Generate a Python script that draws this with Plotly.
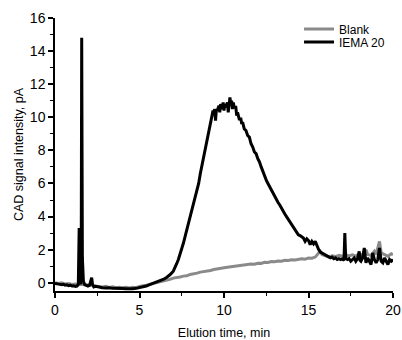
import plotly.graph_objects as go

# Blank (gray)
blank_x = [0.0, 0.2, 0.4, 0.6, 0.8, 1.0, 1.2, 1.4, 1.6, 1.8, 2.0, 2.2, 2.4, 2.6, 2.8, 3.0, 3.2, 3.4, 3.6, 3.8,
           4.0, 4.2, 4.4, 4.6, 4.8, 5.0, 5.2, 5.4, 5.6, 5.8, 6.0, 6.2, 6.4, 6.6, 6.8, 7.0, 7.2, 7.4, 7.6, 7.8,
           8.0, 8.2, 8.4, 8.6, 8.8, 9.0, 9.2, 9.4, 9.6, 9.8, 10.0, 10.2, 10.4, 10.6, 10.8, 11.0, 11.2, 11.4, 11.6, 11.8,
           12.0, 12.2, 12.4, 12.6, 12.8, 13.0, 13.2, 13.4, 13.6, 13.8, 14.0, 14.2, 14.4, 14.6, 14.8, 15.0, 15.2, 15.4, 15.6, 15.7,
           15.8, 16.0, 16.2, 16.4, 16.6, 16.8, 17.0, 17.2, 17.4, 17.6, 17.8, 18.0, 18.2, 18.4, 18.5, 18.7, 18.9, 19.0, 19.2, 19.3,
           19.5, 19.7, 19.9, 20.0]
blank_y = [0.0, -0.05, 0.0, -0.08, -0.05, -0.1, -0.08, -0.12, -0.1, -0.15, -0.12, -0.18, -0.2, -0.22, -0.25, -0.22, -0.28, -0.25, -0.3, -0.27,
           -0.3, -0.28, -0.32, -0.28, -0.3, -0.22, -0.2, -0.15, -0.1, -0.05, 0.0, 0.05, 0.08, 0.15, 0.2, 0.28, 0.3, 0.35, 0.4, 0.42,
           0.5, 0.52, 0.58, 0.64, 0.66, 0.72, 0.74, 0.8, 0.82, 0.86, 0.9, 0.93, 0.96, 0.98, 1.02, 1.05, 1.08, 1.07, 1.13, 1.12,
           1.18, 1.17, 1.23, 1.22, 1.28, 1.27, 1.31, 1.3, 1.36, 1.34, 1.39, 1.37, 1.42, 1.45, 1.42, 1.5, 1.48, 1.55, 1.8, 1.9,
           1.7, 1.6, 1.55, 1.62, 1.58, 1.65, 1.6, 1.7, 1.62, 1.68, 1.6, 1.75, 1.65, 2.0, 1.7, 1.65, 1.9, 1.7, 2.5, 1.8,
           1.7, 1.6, 1.75, 1.7]

# IEMA 20 (black)
iema_x = [0.0, 0.1, 0.2, 0.3, 0.4, 0.5, 0.6, 0.7, 0.8, 0.9, 1.0, 1.1, 1.2, 1.3, 1.38, 1.43, 1.48, 1.52, 1.55, 1.58,
          1.62, 1.68, 1.75, 1.85, 1.95, 2.05, 2.12, 2.17, 2.22, 2.3, 2.4, 2.6, 2.8, 3.0, 3.2, 3.4, 3.6, 3.8, 4.0, 4.2,
          4.4, 4.6, 4.8, 5.0, 5.2, 5.4, 5.6, 5.8, 6.0, 6.2, 6.4, 6.6, 6.8, 7.0, 7.1, 7.2, 7.3, 7.4, 7.5, 7.6,
          7.7, 7.8, 7.9, 8.0, 8.1, 8.2, 8.3, 8.4, 8.5, 8.6, 8.7, 8.8, 8.9, 9.0, 9.1, 9.2, 9.3, 9.35, 9.4, 9.45,
          9.5, 9.55, 9.6, 9.7, 9.75, 9.8, 9.9, 9.95, 10.0, 10.05, 10.1, 10.2, 10.25, 10.3, 10.35, 10.4, 10.45, 10.5, 10.55, 10.6,
          10.7, 10.75, 10.8, 10.9, 11.0, 11.05, 11.1, 11.2, 11.3, 11.4, 11.5, 11.6, 11.7, 11.8, 11.9, 12.0, 12.1, 12.2, 12.3, 12.4,
          12.5, 12.6, 12.7, 12.8, 12.9, 13.0, 13.1, 13.2, 13.3, 13.4, 13.5, 13.6, 13.7, 13.8, 13.9, 14.0, 14.1, 14.2, 14.3, 14.4,
          14.5, 14.6, 14.7, 14.8, 14.9, 15.0, 15.1, 15.2, 15.3, 15.4, 15.5, 15.6, 15.7, 15.8, 15.9, 16.0, 16.1, 16.2, 16.3, 16.4,
          16.5, 16.6, 16.7, 16.8, 16.9, 17.0, 17.1, 17.15, 17.2, 17.3, 17.4, 17.5, 17.6, 17.7, 17.8, 17.9, 18.0, 18.05, 18.1, 18.2,
          18.3, 18.35, 18.4, 18.5, 18.6, 18.7, 18.8, 18.9, 19.0, 19.1, 19.2, 19.3, 19.4, 19.5, 19.6, 19.7, 19.8, 19.9, 20.0]
iema_y = [-0.05, -0.08, -0.1, -0.1, -0.12, -0.1, -0.15, -0.13, -0.18, -0.15, -0.2, -0.18, -0.22, -0.2, -0.1, 3.3, 0.4, -0.1, 0.8, 14.8,
          1.5, 0.1, -0.1, -0.15, -0.2, -0.15, 0.05, 0.3, -0.1, -0.25, -0.22, -0.28, -0.3, -0.32, -0.3, -0.34, -0.33, -0.36, -0.35, -0.37,
          -0.38, -0.36, -0.34, -0.3, -0.25, -0.2, -0.12, -0.05, 0.02, 0.1, 0.2, 0.32, 0.48, 0.7, 0.9, 1.15, 1.4, 1.7, 2.0, 2.4,
          2.8, 3.2, 3.6, 4.0, 4.4, 4.8, 5.2, 5.6, 6.0, 6.6, 7.1, 7.6, 8.1, 8.6, 9.1, 9.6, 10.1, 10.4, 10.2, 10.5,
          9.8, 10.5, 10.4, 10.7, 10.3, 10.8, 10.5, 10.9, 10.4, 10.8, 10.6, 10.9, 10.3, 11.0, 11.2, 10.8, 11.0, 10.5, 10.9, 10.6,
          10.6, 10.1, 10.3, 9.9, 9.9, 9.6, 9.7, 9.3, 9.2, 8.9, 8.8, 8.4, 8.2, 7.9, 7.8, 7.5, 7.3, 7.0, 6.7, 6.5,
          6.2, 6.0, 5.8, 5.6, 5.4, 5.2, 5.0, 4.85, 4.7, 4.5, 4.3, 4.15, 4.0, 3.85, 3.65, 3.5, 3.35, 3.2, 3.05, 2.9,
          2.85, 2.75, 2.7, 2.5, 2.65, 2.55, 2.3, 2.5, 2.35, 2.5, 2.2, 2.0, 1.85, 1.8, 1.7, 1.65, 1.6, 1.55, 1.5, 1.55,
          1.45, 1.5, 1.4, 1.45, 1.4, 1.45, 1.35, 3.0, 1.5, 1.4, 1.45, 1.3, 1.4, 1.5, 1.3, 1.45, 1.9, 1.35, 1.3, 1.5,
          2.1, 1.3, 1.2, 1.5, 1.3, 1.1, 1.8, 1.4, 1.2, 1.4, 2.1, 1.3, 1.2, 1.5, 1.3, 1.1, 1.4, 1.3, 1.4]

x_ticks = [0, 5, 10, 15, 20]
y_ticks = [0, 2, 4, 6, 8, 10, 12, 14, 16]

FONT = "Liberation Sans, Arial, sans-serif"

fig = go.Figure()
fig.add_trace(go.Scatter(x=blank_x, y=blank_y, mode="lines", name="Blank",
                         line=dict(color="#8a8a8a", width=3), legend="legend"))
fig.add_trace(go.Scatter(x=iema_x, y=iema_y, mode="lines", name="IEMA 20",
                         line=dict(color="#000000", width=3), legend="legend2"))

leg_common = dict(xanchor="left", yanchor="top", bgcolor="rgba(0,0,0,0)",
                  font=dict(size=12, family=FONT), itemwidth=30)

fig.update_layout(
    template="none",
    width=402, height=340,
    margin=dict(l=55, r=9, t=18, b=49, autoexpand=False),
    paper_bgcolor="white", plot_bgcolor="white",
    font=dict(family=FONT, color="black", size=12),
    showlegend=True,
    legend=dict(x=0.722, y=1.013, **leg_common),
    legend2=dict(x=0.722, y=0.965, **leg_common),
    xaxis=dict(range=[0, 20], tickvals=x_ticks, ticktext=[str(v) for v in x_ticks], automargin=False,
               showgrid=False, zeroline=False, showline=True, linecolor="black", linewidth=1.5,
               ticks="outside", ticklen=5, tickwidth=1.5, tickcolor="black",
               tickfont=dict(size=14, family=FONT),
               minor=dict(dtick=2.5, tick0=0, ticks="outside", ticklen=3, tickwidth=1.2, tickcolor="black"),
               title=dict(text="Elution time, min", font=dict(size=12.5, family=FONT), standoff=12)),
    yaxis=dict(range=[-0.5, 16], tickvals=y_ticks, ticktext=[str(v) for v in y_ticks], automargin=False,
               showgrid=False, zeroline=False, showline=True, linecolor="black", linewidth=1.5,
               ticks="outside", ticklen=5, tickwidth=1.5, tickcolor="black",
               tickfont=dict(size=14, family=FONT),
               minor=dict(dtick=1, tick0=0, ticks="outside", ticklen=3, tickwidth=1.2, tickcolor="black"),
               title=dict(text="CAD signal intensity, pA", font=dict(size=12.5, family=FONT), standoff=3)),
)

fig.write_html("out.html")
